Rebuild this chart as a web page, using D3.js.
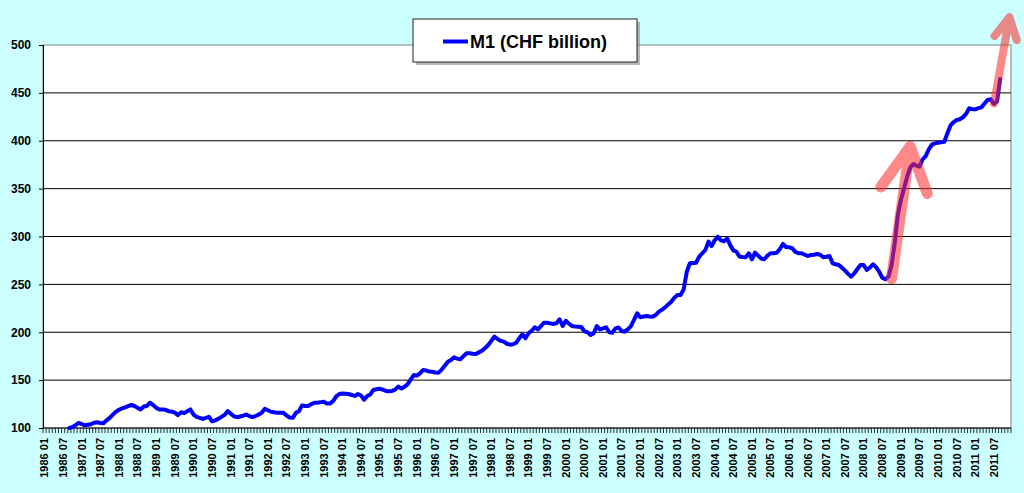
<!DOCTYPE html>
<html>
<head>
<meta charset="utf-8">
<script src="https://cdn.jsdelivr.net/npm/d3@7"></script>
<style>
  body { margin: 0; background: #ccffff; }
  svg { display: block; font-family: "Liberation Sans", Arial, sans-serif; }
</style>
</head>
<body>
<svg id="chart" width="1024" height="493"></svg>
<script>
// monthly categories, 1986 01 .. 2011 12
const months = [];
for (let y = 1986; y <= 2011; y++) {
  for (let m = 1; m <= 12; m++) months.push(y + " " + String(m).padStart(2, "0"));
}

// M1 in CHF billion, monthly, starting 1986 09
const m1Start = "1986 09";
const m1Values = [
  100, 101, 103, 105.3,
  104, 102.8, 103.5, 104, 105.5, 106, 105.3, 105, 108, 110.6, 114, 117,
  119, 120.5, 121.5, 123, 124, 123, 121, 119.4, 122.5, 123, 126.4, 124,
  121, 119.4, 119.4, 119, 117.6, 117.2, 116, 113.4, 116.5, 115.5, 117.5, 119.4,
  114, 111.6, 110.6, 109.5, 110.5, 111.6, 107, 108, 109.5, 111.6, 113.5, 117.6,
  115, 112.3, 111.3, 112, 112.8, 114, 112.5, 111.3, 112.5, 114, 116, 120,
  118.5, 117, 116.5, 115.8, 116, 115.8, 113, 111, 110.6, 115.8, 117.6, 123.6,
  123, 123, 125, 126.4, 126.4, 127, 127.5, 125.5, 125.5, 128, 133, 135.5,
  136, 135.8, 135.5, 134.5, 133.5, 135.5, 134, 129.5, 133.4, 135, 139.7, 140.5,
  141, 140, 138.7, 138.5, 138.7, 140, 143.3, 141.2, 143, 145.5, 150.5, 155.3,
  154.6, 157, 160.6, 160, 159, 158.8, 158, 157.8, 161, 165, 169.2, 171,
  173.8, 172.5, 171.7, 175, 178, 178, 177.5, 177.3, 179, 180.7, 183.5, 186.7,
  191, 195.4, 193, 191, 190.2, 188, 187, 187.5, 189, 193.7, 197.9, 193.7,
  199, 201.6, 205.2, 203, 206.5, 210, 210, 209.3, 208.6, 209.5, 213.5, 206.5,
  212, 209, 206.5, 206, 205.8, 205.5, 201, 200, 197.1, 199, 206.5, 203,
  204, 205.2, 200, 199.5, 204, 205, 201.3, 200.6, 203, 206.5, 213, 219.8,
  215.6, 216.5, 217, 216.5, 216.3, 218, 221.5, 223.5, 226, 229, 231.9, 236,
  238.9, 239, 244.8, 263.2, 272, 272.3, 272.6, 278.9, 282.5, 286, 294.6, 290.1,
  296, 299.8, 296, 295, 298, 291, 285.5, 284.1, 279, 278.5, 278.3, 282.5,
  276.2, 283.1, 280, 277, 276.2, 280, 282.5, 282.5, 283, 287, 292.2, 289,
  288.7, 287.7, 284, 282.5, 282.5, 281, 279.6, 280.7, 281, 281.7, 281, 278.3,
  278.8, 279.6, 272, 271, 270.2, 267.5, 264.3, 261, 258, 261.6, 266, 270.2,
  270.2, 265, 267.5, 271, 268, 263.2, 257, 255.3, 258, 270, 292, 322,
  338, 350, 362, 372, 375.7, 374, 373, 380.6, 384, 391, 396, 397.3,
  398, 398.5, 399, 407.8, 416, 419.5, 421.7, 422.5, 424.5, 428, 433.9, 433,
  432.8, 434, 434.9, 439.1, 442.6, 443.3, 438.5, 441, 464.5
];

const yTicks = [100, 150, 200, 250, 300, 350, 400, 450, 500];
const seriesName = "M1 (CHF billion)";

// highlight arrows (month, value) -> (month, value)
const arrows = [
  { from: ["2008 10", 256], to: ["2009 04", 394], head: 50, width: 11 },
  { from: ["2011 07", 439], to: ["2011 12", 529], head: 24, width: 8 }
];

const svg = d3.select("#chart");
const plot = { left: 43, right: 1011, top: 45, bottom: 428 };

const x = d3.scaleBand().domain(months).range([plot.left, plot.right]).padding(0);
const y = d3.scaleLinear().domain([100, 500]).range([plot.bottom, plot.top]);
const cx = m => x(m) + x.bandwidth() / 2;

// plot area
svg.append("rect")
  .attr("x", plot.left).attr("y", plot.top)
  .attr("width", plot.right - plot.left).attr("height", plot.bottom - plot.top)
  .attr("fill", "#fff").attr("stroke", "#808080");

// gridlines
svg.append("g").selectAll("line")
  .data(yTicks.filter(t => t > 100 && t < 500))
  .join("line")
  .attr("x1", plot.left).attr("x2", plot.right)
  .attr("y1", d => y(d)).attr("y2", d => y(d))
  .attr("stroke", "#000").attr("stroke-width", 1);

// y axis
const yAxis = svg.append("g")
  .attr("transform", `translate(${plot.left},0)`)
  .call(d3.axisLeft(y).tickValues(yTicks).tickSize(4).tickPadding(8));
yAxis.select(".domain").attr("stroke", "#000");
yAxis.selectAll("text").attr("font-size", 12).attr("font-weight", "bold")
  .attr("fill", "#000").attr("font-family", "Liberation Sans, Arial, sans-serif");

// x axis: monthly ticks at category boundaries
const xAxis = svg.append("g").attr("transform", `translate(0,${plot.bottom})`);
xAxis.append("line")
  .attr("x1", plot.left).attr("x2", plot.right)
  .attr("stroke", "#000");
xAxis.selectAll("line.tick")
  .data(months.concat(["end"]))
  .join("line")
  .attr("class", "tick")
  .attr("x1", (d, i) => plot.left + i * x.bandwidth())
  .attr("x2", (d, i) => plot.left + i * x.bandwidth())
  .attr("y1", 0).attr("y2", 5)
  .attr("stroke", "#000").attr("stroke-width", 0.8);
xAxis.selectAll("text")
  .data(months.filter((d, i) => i % 6 === 0 && i <= 306))
  .join("text")
  .attr("transform", d => `translate(${cx(d)},10) rotate(-90)`)
  .attr("text-anchor", "end")
  .attr("dy", "0.35em")
  .attr("font-size", 11)
  .attr("font-weight", "bold")
  .text(d => d);

// the series
const startIdx = months.indexOf(m1Start);
const points = m1Values.map((v, i) => ({ m: months[startIdx + i], v }));
svg.append("path")
  .datum(points)
  .attr("fill", "none")
  .attr("stroke", "#0000ff")
  .attr("stroke-width", 4)
  .attr("stroke-linejoin", "round")
  .attr("stroke-linecap", "round")
  .attr("d", d3.line().x(d => cx(d.m)).y(d => y(d.v)));

// arrows
const arrowG = svg.append("g").attr("opacity", 0.55);
arrows.forEach(a => {
  const x0 = cx(a.from[0]), y0 = y(a.from[1]);
  const x1 = cx(a.to[0]), y1 = y(a.to[1]);
  const ang = Math.atan2(y0 - y1, x0 - x1);
  const spread = 28 * Math.PI / 180;
  const wing = s => [x1 + a.head * Math.cos(ang + s), y1 + a.head * Math.sin(ang + s)];
  const l = wing(spread), r = wing(-spread);
  arrowG.append("path")
    .attr("d", `M${x0},${y0}L${x1},${y1}M${l[0]},${l[1]}L${x1},${y1}L${r[0]},${r[1]}`)
    .attr("fill", "none")
    .attr("stroke", "#ff2a2a")
    .attr("stroke-width", a.width)
    .attr("stroke-linecap", "round")
    .attr("stroke-linejoin", "round");
});

// legend
const lg = svg.append("g").attr("transform", "translate(413,19)");
lg.append("rect").attr("x", 3).attr("y", 3).attr("width", 224).attr("height", 43)
  .attr("fill", "#888").attr("opacity", 0.6);
lg.append("rect").attr("width", 224).attr("height", 43)
  .attr("fill", "#fff").attr("stroke", "#222");
lg.append("line").attr("x1", 30).attr("x2", 55).attr("y1", 22.5).attr("y2", 22.5)
  .attr("stroke", "#0000ff").attr("stroke-width", 4);
lg.append("text").attr("x", 57).attr("y", 29)
  .attr("font-size", 18).attr("font-weight", "bold").attr("fill", "#000")
  .text(seriesName);
</script>
</body>
</html>
